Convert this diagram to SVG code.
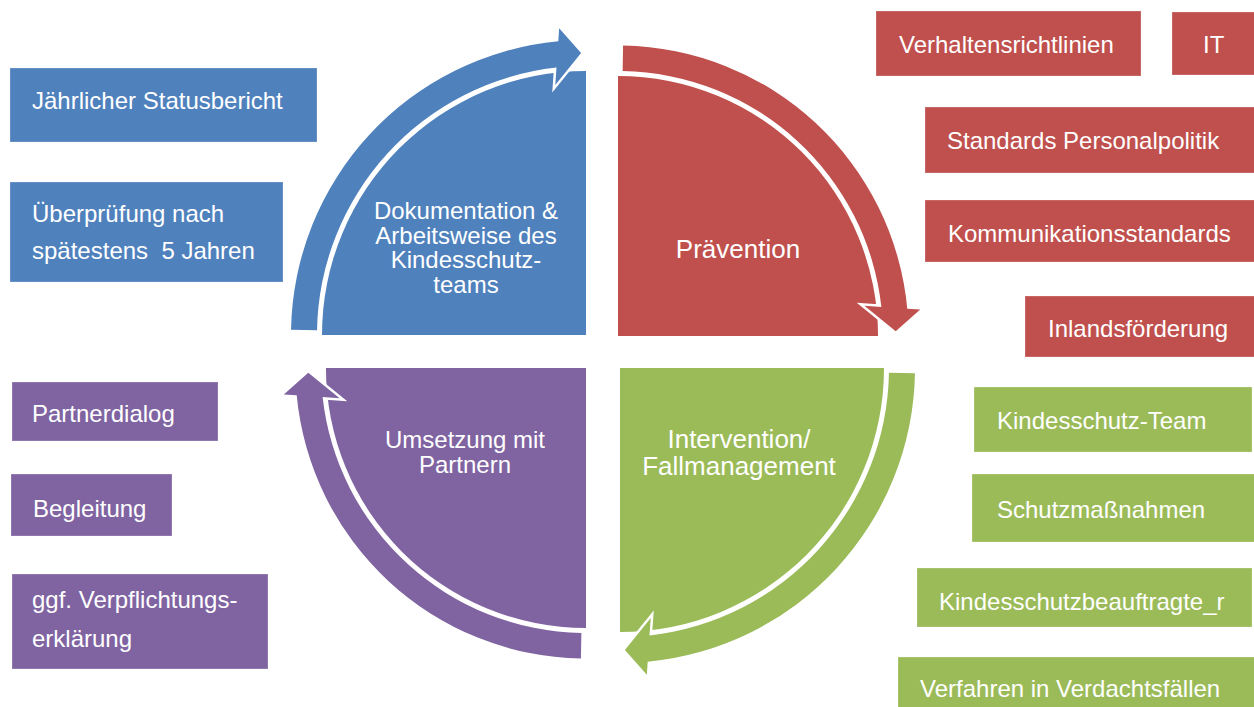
<svg xmlns="http://www.w3.org/2000/svg" width="1254" height="707" viewBox="0 0 1254 707">
  <style>
    .lbl { font-family: "Liberation Sans", Arial, sans-serif; font-size: 24px; fill: #ffffff; }
    .big { font-size: 26px; }
    .mid { text-anchor: middle; }
    .box { stroke: #ffffff; stroke-opacity: 0.25; stroke-width: 1; }
    .blue { fill: #4F81BD; }
    .red { fill: #C0504D; }
    .green { fill: #9BBB59; }
    .purple { fill: #8064A2; }
    .ring { stroke: #ffffff; stroke-width: 5; stroke-linejoin: miter; paint-order: stroke fill; }
  </style>
  <defs>
    <!-- quarter pie, drawn for the upper-left quadrant, centre at origin -->
    <path id="pie" d="M 0 0 L -264 0 A 264 264 0 0 1 0 -264 Z"/>
    <!-- curved arrow running along the quarter pie, left to top -->
    <path id="arc" d="M -294.96 -5.15 A 295 295 0 0 1 -27.7 -293.7 L -26.84 -306.83 L -4.92 -281.96 L -30.71 -250.12 L -29.5 -267.4 A 269 269 0 0 0 -268.96 -4.69 Z"/>
  </defs>
  <rect width="1254" height="707" fill="#ffffff"/>

  <!-- cycle quadrants -->
  <g id="q-doku">
    <use href="#pie" class="blue" transform="translate(586,335)"/>
    <text class="lbl mid" x="466" y="219">Dokumentation &amp;</text>
    <text class="lbl mid" x="466" y="244">Arbeitsweise des</text>
    <text class="lbl mid" x="466" y="268">Kindesschutz-</text>
    <text class="lbl mid" x="466" y="293">teams</text>
  </g>
  <g id="q-praevention">
    <use href="#pie" class="red" transform="translate(618,336) scale(0.985) rotate(90)"/>
    <text class="lbl big mid" x="738" y="258">Prävention</text>
  </g>
  <g id="q-intervention">
    <use href="#pie" class="green" transform="translate(620,368) rotate(180)"/>
    <text class="lbl big mid" x="739" y="448">Intervention/</text>
    <text class="lbl big mid" x="739" y="475">Fallmanagement</text>
  </g>
  <g id="q-umsetzung">
    <use href="#pie" class="purple" transform="translate(586,368) scale(0.985) rotate(270)"/>
    <text class="lbl mid" x="465" y="448">Umsetzung mit</text>
    <text class="lbl mid" x="465" y="473">Partnern</text>
  </g>

  <!-- cycle arrows -->
  <g id="connectors">
    <use href="#arc" class="blue ring" transform="translate(586,335)"/>
    <use href="#arc" class="red ring" transform="translate(618,336) scale(0.985) rotate(90)"/>
    <use href="#arc" class="green ring" transform="translate(620,368) rotate(180)"/>
    <use href="#arc" class="purple ring" transform="translate(586,368) scale(0.985) rotate(270)"/>
  </g>

  <!-- documentation items -->
  <g id="b-status">
    <rect class="blue box" x="10" y="68" width="307" height="74"/>
    <text class="lbl" x="32" y="109">Jährlicher Statusbericht</text>
  </g>
  <g id="b-pruefung">
    <rect class="blue box" x="10" y="182" width="273" height="100"/>
    <text class="lbl" x="32" y="222">Überprüfung nach</text>
    <text class="lbl" x="32" y="259" xml:space="preserve">spätestens  5 Jahren</text>
  </g>

  <!-- prevention items -->
  <g id="r-verhalten">
    <rect class="red box" x="876" y="11" width="265" height="65"/>
    <text class="lbl" x="899" y="53">Verhaltensrichtlinien</text>
  </g>
  <g id="r-it">
    <rect class="red box" x="1172" y="12" width="90" height="63"/>
    <text class="lbl" x="1203" y="53">IT</text>
  </g>
  <g id="r-personal">
    <rect class="red box" x="925" y="107" width="335" height="66"/>
    <text class="lbl" x="947" y="149">Standards Personalpolitik</text>
  </g>
  <g id="r-kommunikation">
    <rect class="red box" x="925" y="200" width="335" height="62"/>
    <text class="lbl" x="948" y="242">Kommunikationsstandards</text>
  </g>
  <g id="r-inland">
    <rect class="red box" x="1025" y="296" width="235" height="61"/>
    <text class="lbl" x="1048" y="337">Inlandsförderung</text>
  </g>

  <!-- intervention items -->
  <g id="g-team">
    <rect class="green box" x="974" y="387" width="278" height="65"/>
    <text class="lbl" x="997" y="429">Kindesschutz-Team</text>
  </g>
  <g id="g-schutz">
    <rect class="green box" x="972" y="474" width="290" height="68"/>
    <text class="lbl" x="997" y="518">Schutzmaßnahmen</text>
  </g>
  <g id="g-beauftragte">
    <rect class="green box" x="917" y="568" width="335" height="59"/>
    <text class="lbl" x="939" y="610">Kindesschutzbeauftragte_r</text>
  </g>
  <g id="g-verfahren">
    <rect class="green box" x="898" y="657" width="360" height="55"/>
    <text class="lbl" x="920" y="697">Verfahren in Verdachtsfällen</text>
  </g>

  <!-- partner items -->
  <g id="p-dialog">
    <rect class="purple box" x="12" y="382" width="206" height="59"/>
    <text class="lbl" x="32" y="422">Partnerdialog</text>
  </g>
  <g id="p-begleitung">
    <rect class="purple box" x="11" y="474" width="161" height="62"/>
    <text class="lbl" x="33" y="517">Begleitung</text>
  </g>
  <g id="p-verpflichtung">
    <rect class="purple box" x="12" y="574" width="256" height="95"/>
    <text class="lbl" x="32" y="608">ggf. Verpflichtungs-</text>
    <text class="lbl" x="32" y="647">erklärung</text>
  </g>
</svg>
